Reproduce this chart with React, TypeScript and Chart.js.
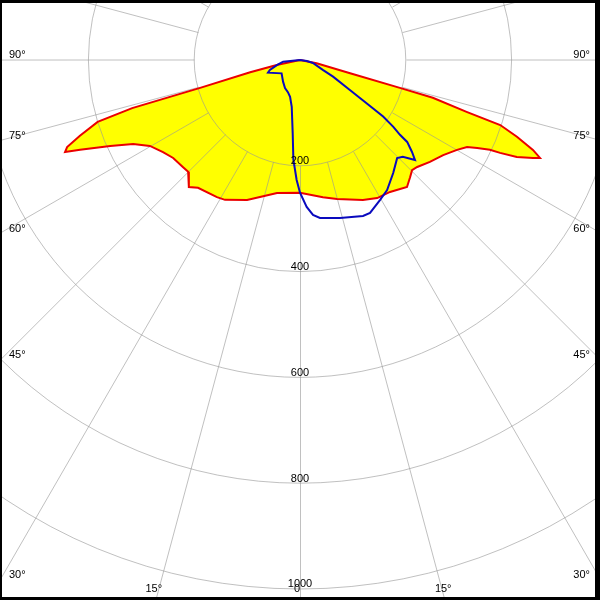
import React, { useEffect, useRef } from "react";
import { Chart, registerables } from "chart.js";

Chart.register(...registerables);

// C0-C180 plane (red outline, yellow fill): gamma angle in degrees (negative = left), intensity in cd
const redAngles = [-90, -77.9, -76.2, -74.4, -74.0, -73.0, -71.0, -69.5, -68.6, -67.8, -65.6, -63.3, -60.2, -56.1, -52.3, -47.6, -45, -41.2, -38.6, -31.2, -28.2, -20.7, -16.3, -9.8, 0, 9.5, 14.9, 24.2, 29.2, 34.3, 40.1, 43.2, 45.5, 47.6, 51.9, 56.4, 60.2, 62.5, 63.6, 64.7, 65.1, 65.9, 67.2, 67.8, 68.9, 70.5, 72, 72.7, 74.1, 74.4, 75.1, 78.8, 90];
const redValues = [0, 45, 97, 196, 330, 400, 440, 470, 477, 449, 394, 353, 327, 312, 303, 300, 299, 319, 309, 303, 300, 283, 270, 255, 251, 263, 272, 290, 299, 302, 314, 304, 297, 300, 312, 325, 342, 356, 374, 397, 417, 449, 478, 490, 472, 435, 398, 331, 261, 196, 98, 32, 0];

// C90-C270 plane (blue outline)
const blueAngles = [-90, -84.3, -77.7, -71.6, -68.4, -54, -38, -28.2, -20.6, -15.1, -10, -5.7, -3.8, -1.6, 0, 2.6, 4.8, 7.2, 14.2, 22, 24.6, 29.7, 33.8, 39.5, 44.7, 46.7, 49, 50.6, 52.6, 53.2, 54.4, 55.8, 57, 59, 63.2, 66.5, 77, 82, 90];
const blueValues = [0, 32, 44, 60, 65, 43, 52, 60, 65, 72, 90, 139, 189, 227, 251, 278, 294, 301, 308, 318, 318, 305, 296, 277, 261, 267, 288, 274, 255, 236, 217, 190, 150, 110, 70, 47, 25, 13, 0];

// Grid
const ringValues = [200, 400, 600, 800, 1000];
const ringLabels = ["200", "400", "600", "800", "1000"];
const spokeAngles = [-165, -150, -135, -120, -105, -90, -75, -60, -45, -30, -15, 0, 15, 30, 45, 60, 75, 90, 105, 120, 135, 150, 165, 180];
const angleTickAngles = [-90, -75, -60, -45, -30, -15, 0, 15, 30, 45, 60, 75, 90];
const angleTickLabels = ["90°", "75°", "60°", "45°", "30°", "15°", "0", "15°", "30°", "45°", "60°", "75°", "90°"];

const toXY = (a: number, v: number) => {
  const r = (a * Math.PI) / 180;
  return { x: v * Math.sin(r), y: -v * Math.cos(r) };
};

const FONT = '11px "Liberation Sans", Arial, sans-serif';

const polarPlugin = {
  id: "polarGrid",
  afterDatasetDraw(chart: any, args: any) {
    if (args.index !== 2) return;
    const ctx = chart.ctx;
    const xs = chart.scales.x;
    const ys = chart.scales.y;
    const cx = xs.getPixelForValue(0);
    const cy = ys.getPixelForValue(0);
    const k = xs.getPixelForValue(1) - cx;
    ctx.save();
    ctx.strokeStyle = "rgba(150,150,150,0.6)";
    ctx.lineWidth = 1;
    for (const v of ringValues) {
      ctx.beginPath();
      ctx.arc(cx, cy, v * k, 0, Math.PI * 2);
      ctx.stroke();
    }
    for (const a of spokeAngles) {
      const p0 = toXY(a, ringValues[0]);
      const p1 = toXY(a, 4000);
      ctx.beginPath();
      ctx.moveTo(Math.round(xs.getPixelForValue(p0.x)) + 0.5, ys.getPixelForValue(p0.y));
      ctx.lineTo(Math.round(xs.getPixelForValue(p1.x)) + (a === 0 || a === 180 ? 0.5 : 0), ys.getPixelForValue(p1.y) + (a === 90 || a === -90 ? 0.5 : 0));
      ctx.stroke();
    }
    ctx.restore();
  },
  afterDraw(chart: any) {
    const ctx = chart.ctx;
    const xs = chart.scales.x;
    const ys = chart.scales.y;
    const W = chart.width;
    const H = chart.height;
    const cx = xs.getPixelForValue(0);
    const cy = ys.getPixelForValue(0);
    ctx.save();
    ctx.fillStyle = "#000";
    ctx.font = FONT;
    ctx.textBaseline = "alphabetic";
    // ring labels
    ctx.textAlign = "center";
    ringValues.forEach((v, i) => {
      const py = ys.getPixelForValue(-v);
      ctx.fillText(ringLabels[i], cx, py - 1.5);
    });
    // angle labels at the frame
    angleTickAngles.forEach((a, i) => {
      const r = (a * Math.PI) / 180;
      const dx = Math.sin(r);
      const dy = Math.cos(r);
      const tx = Math.abs(dx) > 1e-9 ? (dx > 0 ? (W - cx) / dx : -cx / dx) : Infinity;
      const ty = dy > 1e-9 ? (H - cy) / dy : Infinity;
      if (tx < ty) {
        const y = cy + tx * dy;
        if (dx < 0) {
          ctx.textAlign = "left";
          ctx.fillText(angleTickLabels[i], 9, y - 1.5);
        } else {
          ctx.textAlign = "right";
          ctx.fillText(angleTickLabels[i], 590, y - 1.5);
        }
      } else {
        const x = cx + ty * dx;
        ctx.textAlign = "center";
        ctx.fillText(angleTickLabels[i], x - (a === 0 ? 3 : 1.5), H - 8);
      }
    });
    // frame
    ctx.fillStyle = "#000";
    ctx.fillRect(0, 0, 2, H);
    ctx.fillRect(0, 0, W, 3);
    ctx.fillRect(W - 5, 0, 5, H);
    ctx.fillRect(0, H - 3, W, 3);
    ctx.restore();
  },
};

export default function App() {
  const ref = useRef<HTMLCanvasElement | null>(null);
  useEffect(() => {
    document.body.style.margin = "0";
    const canvas = ref.current;
    if (!canvas) return;
    const red = redAngles.map((a, i) => toXY(a, redValues[i]));
    const blue = blueAngles.map((a, i) => toXY(a, blueValues[i]));
    const chart = new Chart(canvas, {
      type: "scatter",
      data: {
        datasets: [
          {
            label: "C90-C270",
            data: blue,
            showLine: true,
            borderColor: "rgb(10,10,190)",
            borderWidth: 2,
            pointRadius: 0,
            fill: false,
            tension: 0,
          },
          {
            label: "C0-C180",
            data: red,
            showLine: true,
            borderColor: "rgb(235,0,0)",
            borderWidth: 2,
            pointRadius: 0,
            fill: false,
            tension: 0,
          },
          {
            label: "fill",
            data: red,
            showLine: true,
            borderColor: "rgba(0,0,0,0)",
            borderWidth: 0,
            backgroundColor: "rgb(255,255,0)",
            pointRadius: 0,
            fill: "shape",
            tension: 0,
          },
        ],
      } as any,
      options: {
        animation: false,
        responsive: false,
        layout: { padding: 0 },
        plugins: {
          legend: { display: false },
          tooltip: { enabled: false },
          title: { display: false },
        },
        scales: {
          x: { type: "linear", display: false, min: -567.1, max: 567.1 },
          y: { type: "linear", display: false, min: -1020.8, max: 113.4 },
        },
      } as any,
      plugins: [polarPlugin],
    });
    return () => chart.destroy();
  }, []);
  return (
    <div style={{ width: 600, height: 600, background: "#fff" }}>
      <canvas ref={ref} width={600} height={600} style={{ display: "block" }} />
    </div>
  );
}
